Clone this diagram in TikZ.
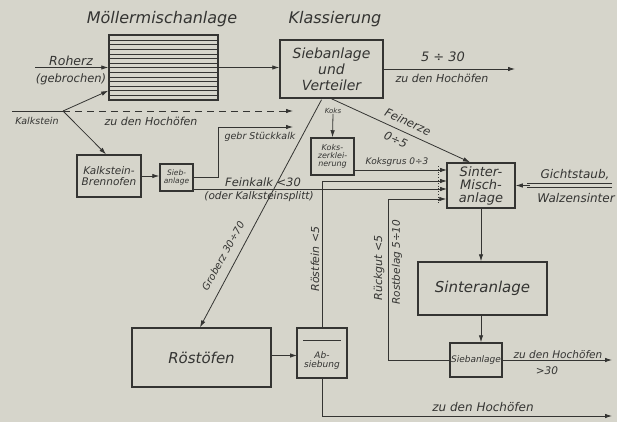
\documentclass[tikz,border=0pt]{standalone}
\usepackage{fontspec}
\setmainfont{DejaVu Sans}
\usetikzlibrary{arrows.meta,calc}
\definecolor{bg}{RGB}{214,213,203}
\definecolor{ink}{RGB}{52,52,50}
\newcommand\fsz[1]{\fontsize{#1}{#1}\selectfont\itshape}
\begin{document}
\begin{tikzpicture}[x=1pt,y=-1pt,
  box/.style={draw=ink,line width=1.5pt,inner sep=0pt,align=center,text=ink},
  conn/.style={draw=ink,line width=0.8pt},
  arr/.style={conn,-{Latex[length=7pt,width=4.5pt]}},
  lbl/.style={text=ink,inner sep=0pt,align=center}]
\fill[bg] (0,0) rectangle (617,422);
\useasboundingbox (0,0) rectangle (617,422);

% titles
\node[lbl,font=\fsz{16}] (t1) at (162,19) {Möllermischanlage};
\node[lbl,font=\fsz{16}] (t2) at (335,19) {Klassierung};

% boxes
\node[box,minimum width=109,minimum height=65] (moeller) at (163.5,67.5) {};
\foreach \i in {0,...,12}{\draw[ink,line width=0.5pt] (109,40+\i*4.6) -- (218,40+\i*4.6);}
\node[box,minimum width=103,minimum height=58,font=\fsz{14}] (sieb) at (331.5,69) {Siebanlage\\[2pt]und\\[2pt]Verteiler};
\node[box,minimum width=64,minimum height=42,font=\fsz{10.5}] (brenn) at (109,176) {Kalkstein-\\[1pt]Brennofen};
\node[box,minimum width=33,minimum height=27,font=\fsz{7.5}] (siebk) at (176.5,177.5) {Sieb-\\anlage};
\node[box,minimum width=43,minimum height=37,font=\fsz{8}] (koks) at (332.5,156.5) {Koks-\\zerklei-\\nerung};
\node[box,minimum width=68,minimum height=45,font=\fsz{13}] (smisch) at (481,185.5) {Sinter-\\Misch-\\anlage};
\node[box,minimum width=129,minimum height=53,font=\fsz{15}] (sinter) at (482.5,288.5) {Sinteranlage};
\node[box,minimum width=52,minimum height=34,font=\fsz{9}] (siebs) at (476,360) {Siebanlage};
\node[box,minimum width=139,minimum height=59,font=\fsz{15}] (roest) at (201.5,357.5) {Röstöfen};
\node[box,minimum width=50,minimum height=50] (abs) at (322,353) {};
\node[lbl,font=\fsz{9}] (abst) at (322,361) {Ab-\\siebung};
\draw[ink,line width=0.6pt] (303,340) -- (341,340);

% coordinates
\coordinate (rin) at (35,67.5);
\coordinate (kin) at (12,111);
\coordinate (ksplit) at (63,111);
\coordinate (kout) at (293,111);
\coordinate (stkc) at (218,127);
\coordinate (stk) at (293,127);
\coordinate (o530) at (515,69);
\coordinate (rk1) at (388,360);
\coordinate (rk2) at (388,199);
\coordinate (zb) at (612,416);
\coordinate (zs) at (612,360);
\coordinate (ra) at (271,355.5);
\coordinate (rb) at (297,355.5);
\coordinate (fk0) at (193,189);
\coordinate (fk1) at (447,189);
\coordinate (kg0) at (354,170);
\coordinate (kg1) at (447,170);
\coordinate (rf1) at (447,181);
\coordinate (gs1) at (530,185.5);

% Roherz
\draw[arr] (rin) -- (moeller.west);
\draw[conn] (moeller.west) -- (moeller.east);
\draw[arr] (moeller.east) -- (moeller.east -| sieb.west);
\draw[arr] (sieb.east |- o530) -- (o530);

% Kalkstein
\draw[conn] (kin) -- (ksplit);
\draw[arr,dashed,dash pattern=on 7pt off 5pt] (ksplit) -- (kout);
\draw[arr] (ksplit) -- ($(moeller.south west)+(0,-10)$);
\draw[arr] (ksplit) -- ($(brenn.north)+(-3,0)$);
\draw[arr] (brenn.east) -- (brenn.east -| siebk.west);
\draw[arr] (siebk.east) -| (stkc) -- (stk);
\draw[arr] (fk0) -- (fk1);

% from Siebanlage
\draw[arr] (sieb.south) -- ($(smisch.north)+(-11,0)$);
\draw[arr] ($(sieb.south)+(-10,1)$) -- ($(roest.north)+(-1.5,0)$);
\node[lbl,font=\fsz{7}] (koksl) at (333,111) {Koks};
\draw[arr] (koksl.south) -- (koks.north);
\draw[arr] (kg0) -- (kg1);

% Röstfein, Rückgut
\draw[arr] (abs.north) |- (rf1);
\draw[conn] (siebs.west) -- (rk1) -- (rk2);
\draw[arr] (rk2) -- (rk2 -| smisch.west);
\draw[ink,line width=0.8pt,dotted] (438,166) -- (438,204);

% Röstöfen, Absiebung
\draw[arr] (ra) -- (rb);
\draw[arr] (abs.south) |- (zb);

% Sinter chain
\draw[arr] (smisch.south) -- (smisch.south |- sinter.north);
\draw[arr] (smisch.south |- sinter.south) -- (smisch.south |- siebs.north);
\draw[arr] (siebs.east) -- (zs);

% Gichtstaub
\draw[ink,line width=0.8pt] (612,183.5) -- (527,183.5);
\draw[ink,line width=0.8pt] (612,187.5) -- (527,187.5);
\draw[arr] (gs1) -- (smisch.east);

% labels
\node[lbl,font=\fsz{12.5}] (l1) at (71,61) {Roherz};
\node[lbl,font=\fsz{11.5}] (l2) at (71,79) {(gebrochen)};
\node[lbl,font=\fsz{9.5}] (l3) at (37,121) {Kalkstein};
\node[lbl,font=\fsz{11}] (l4) at (151,121) {zu den Hochöfen};
\node[lbl,font=\fsz{9.5}] (l5) at (260,137) {gebr Stückkalk};
\node[lbl,font=\fsz{11.5}] (l6) at (263,182) {Feinkalk <30};
\node[lbl,font=\fsz{10.5}] (l7) at (259,197) {(oder Kalksteinsplitt)};
\node[lbl,font=\fsz{10},rotate=61] (l8) at (223,256) {Groberz 30÷70};
\node[lbl,font=\fsz{9}] (l9) at (397,162) {Koksgrus 0÷3};
\node[lbl,font=\fsz{11.5},rotate=-24] (l10) at (408,122) {Feinerze};
\node[lbl,font=\fsz{11.5},rotate=-24] (l11) at (396,140) {0÷5};
\node[lbl,font=\fsz{13}] (l12) at (443,57) {5 ÷ 30};
\node[lbl,font=\fsz{11}] (l13) at (442,78) {zu den Hochöfen};
\node[lbl,font=\fsz{11},rotate=90] (l14) at (315,259) {Röstfein <5};
\node[lbl,font=\fsz{11},rotate=90] (l15) at (379,268) {Rückgut <5};
\node[lbl,font=\fsz{10.5},rotate=90] (l16) at (397,262) {Rostbelag 5÷10};
\node[lbl,font=\fsz{12}] (l17) at (575,175) {Gichtstaub,};
\node[lbl,font=\fsz{12}] (l18) at (576,198) {Walzensinter};
\node[lbl,font=\fsz{10.5}] (l19) at (558,355) {zu den Hochöfen};
\node[lbl,font=\fsz{10.5}] (l20) at (547,371) {>30};
\node[lbl,font=\fsz{12}] (l21) at (483,407) {zu den Hochöfen};
\end{tikzpicture}
\end{document}
